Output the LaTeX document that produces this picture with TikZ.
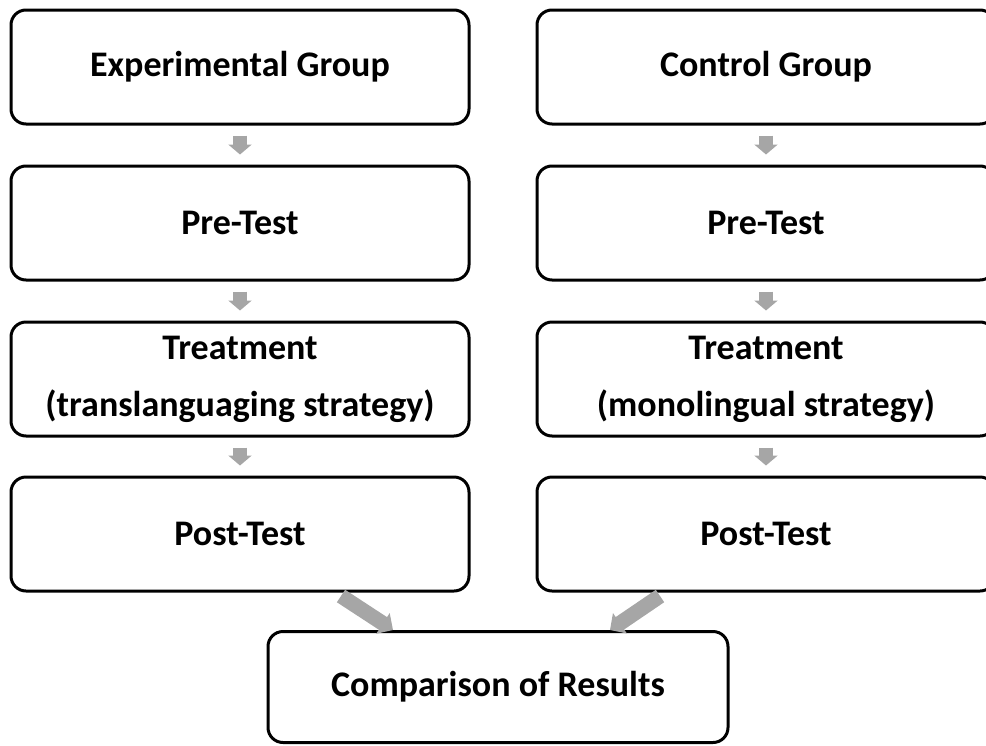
\documentclass[tikz,border=0pt]{standalone}
\usepackage{fontspec}
\setmainfont{Carlito}
\usetikzlibrary{arrows.meta}
\definecolor{arrowgray}{RGB}{166,166,166}
\tikzset{
  x=1pt,y=-1pt,
  box/.style={draw=black, line width=3pt, rounded corners=15pt, fill=white,
    minimum width=458pt, minimum height=114pt, inner sep=0pt,
    font=\fontsize{36}{57}\selectfont\bfseries, align=center},
  downarrow/.style={draw=arrowgray, line width=14pt, shorten <=10pt, shorten >=10pt,
    -{Triangle[width=23pt,length=10pt]}},
  diagarrow/.style={draw=arrowgray, line width=15pt,
    -{Triangle[width=24pt,length=12pt]}}
}
\begin{document}
\begin{tikzpicture}
\useasboundingbox (0,0) rectangle (986,745);
\node[box] (eg) at (240,67) {Experimental Group};
\node[box] (ep) at (240,223) {Pre-Test};
\node[box] (et) at (240,379) {Treatment\\(translanguaging strategy)};
\node[box] (eo) at (240,534) {Post-Test};
\node[box] (cg) at (766,67) {Control Group};
\node[box] (cp) at (766,223) {Pre-Test};
\node[box] (ct) at (766,379) {Treatment\\(monolingual strategy)};
\node[box] (co) at (766,534) {Post-Test};
\node[box, minimum width=460pt, minimum height=111pt] (cr) at (498,687) {Comparison of Results};
\foreach \a/\b in {eg/ep,ep/et,et/eo,cg/cp,cp/ct,ct/co}
  \draw[downarrow] (\a.south) -- (\b.north);
\coordinate (l1) at (341,596);
\coordinate (l2) at (393,630);
\coordinate (r1) at (660,596);
\coordinate (r2) at (610,630);
\draw[diagarrow] (l1) -- (l2);
\draw[diagarrow] (r1) -- (r2);
\end{tikzpicture}
\end{document}
